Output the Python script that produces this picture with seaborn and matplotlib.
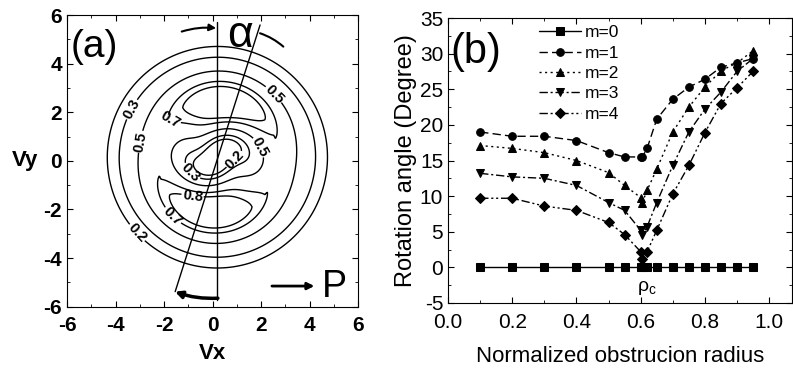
import numpy as np
import pandas as pd
import matplotlib
matplotlib.use('Agg')
import matplotlib.pyplot as plt
import seaborn as sns

# ---- panel (b): rotation angle vs normalized obstruction radius
radius = [0.1, 0.2, 0.3, 0.4, 0.5, 0.55, 0.6, 0.605, 0.62, 0.65, 0.7, 0.75, 0.8, 0.85, 0.9, 0.95]
m0 = [0, 0, 0, 0, 0, 0, 0, 0, 0, 0, 0, 0, 0, 0, 0, 0]
m1 = [19.0, 18.4, 18.4, 17.8, 16.1, 15.5, 15.5, 15.5, 16.7, 20.8, 23.6, 25.3, 26.4, 28.1, 28.7, 29.3]
m2 = [17.1, 16.7, 16.1, 15.0, 13.3, 11.5, 9.8, 9.1, 10.8, 13.8, 19.0, 22.5, 25.3, 27.6, 28.7, 30.4]
m3 = [13.2, 12.7, 12.5, 11.5, 9.1, 8.0, 5.2, 4.6, 5.7, 9.1, 14.3, 19.0, 22.2, 24.6, 27.5, 29.3]
m4 = [9.7, 9.7, 8.6, 8.0, 6.3, 4.6, 2.2, 1.2, 2.2, 5.2, 10.3, 14.3, 18.9, 23.0, 25.2, 27.5]
mode_names = ['m=0', 'm=1', 'm=2', 'm=3', 'm=4']

# ---- panel (a): contour levels and shape parameters of the intensity map
levels = [0.2, 0.3, 0.5, 0.7, 0.8]
centre = (0.2, 0.15)
floor, amp = 0.05, 0.74
ring_r, outer_w, outer_p = 2.5, 1.5, 1.5
mod_c, mod_ring, mod_rm = 0.65, 0.2, 1.6
lobe_out, twist, twist_r = 80.0, 62.6, 1.3
# where the contour values are written
label_spots = [(-3.28, 2.09), (-1.75, 1.75), (2.37, 2.58), (-2.99, 0.79), (2.09, 0.65),
               (0.93, 0.04), (-1.0, -0.58), (-0.86, -1.74), (-1.75, -2.36), (-2.99, -2.84)]

sns.set_style('ticks')
plt.rcParams['font.family'] = ['Liberation Sans', 'DejaVu Sans']
plt.rcParams.update({'xtick.direction': 'in', 'ytick.direction': 'in',
                     'text.color': 'k', 'axes.labelcolor': 'k', 'axes.edgecolor': 'k',
                     'xtick.color': 'k', 'ytick.color': 'k', 'axes.unicode_minus': False})

fig = plt.figure(figsize=(7.93, 3.73), dpi=100)
ax1 = fig.add_axes([0.0845, 0.1777, 0.367, 0.782])
ax2 = fig.add_axes([0.565, 0.1877, 0.4332, 0.764])

# ---------- (a)
v = np.linspace(-6, 6, 481)
X, Y = np.meshgrid(v, v)
R = np.hypot(X - centre[0], Y - centre[1])
T = np.arctan2(Y - centre[1], X - centre[0])
s = (R / ring_r) ** 2
inside = R < ring_r
h = np.where(inside, s * np.exp(1 - s), np.exp(-(np.abs(R - ring_r) / outer_w) ** outer_p))
mod = np.where(inside,
               mod_ring + (mod_c - mod_ring) * np.exp(-(R / mod_rm) ** 2),
               mod_ring * np.exp(-((R - ring_r) / 1.2) ** 2))
phase = np.deg2rad(lobe_out + twist * np.exp(-(R / twist_r) ** 2))
I = floor + amp * h * (1 + mod * np.cos(2 * (T - phase)))

cs = ax1.contour(X, Y, I, levels=levels, colors='k', linewidths=1)
labels = ax1.clabel(cs, fmt='%.1f', fontsize=10.5, inline=True, inline_spacing=1,
                    manual=label_spots)
for t in labels:
    t.set_fontweight('bold')

ax1.plot([0.2, 0.2], [-5.72, 5.73], color='k', lw=1)
ax1.plot([-1.54, 1.96], [-5.38, 5.59], color='k', lw=1)
ax1.annotate('', xy=(0.15, 5.46), xytext=(-1.27, 5.32),
             arrowprops=dict(arrowstyle='-|>', color='k', lw=1.5,
                             connectionstyle='arc3,rad=-0.1', shrinkA=0, shrinkB=0))
ax1.annotate('', xy=(2.92, 4.70), xytext=(1.96, 5.25),
             arrowprops=dict(arrowstyle='-', color='k', lw=1.5,
                             connectionstyle='arc3,rad=-0.1', shrinkA=0, shrinkB=0))
ax1.annotate('', xy=(-1.55, -5.38), xytext=(0.22, -5.65),
             arrowprops=dict(arrowstyle='-|>', color='k', lw=2.5,
                             connectionstyle='arc3,rad=-0.1', shrinkA=0, shrinkB=0))
ax1.annotate('', xy=(4.2, -5.15), xytext=(2.45, -5.15),
             arrowprops=dict(arrowstyle='-|>', color='k', lw=2, shrinkA=0, shrinkB=0))
ax1.text(5.03, -5.2, 'P', fontsize=27, ha='center', va='center')
ax1.text(1.13, 5.15, 'α', fontsize=32, ha='center', va='center')
ax1.text(-5.85, 4.7, '(a)', fontsize=28, ha='left', va='center')

ax1.set_xlim(-6, 6)
ax1.set_ylim(-6, 6)
ax1.set_xticks(range(-6, 7, 2))
ax1.set_yticks(range(-6, 7, 2))
ax1.set_xticks(range(-5, 6, 2), minor=True)
ax1.set_yticks(range(-5, 6, 2), minor=True)
ax1.tick_params(which='both', top=True, right=True, labelsize=15)
ax1.tick_params(axis='x', pad=7)
ax1.tick_params(which='major', length=4)
ax1.tick_params(which='minor', length=2)
for lab in ax1.get_xticklabels() + ax1.get_yticklabels():
    lab.set_fontweight('bold')
ax1.set_xlabel('Vx', fontsize=16, fontweight='bold')
ax1.set_ylabel('Vy', fontsize=16, fontweight='bold', rotation=0, va='center')
ax1.xaxis.set_label_coords(0.5, -0.125)
ax1.yaxis.set_label_coords(-0.145, 0.5)

# ---------- (b)
df = pd.DataFrame({
    'radius': radius * 5,
    'angle': m0 + m1 + m2 + m3 + m4,
    'mode': [n for n in mode_names for _ in radius],
})
sns.lineplot(data=df, x='radius', y='angle', hue='mode', style='mode',
             palette=['k'] * 5, markers=['s', 'o', '^', 'v', 'D'],
             dashes=['', (6, 3), (1.5, 2.5), (6, 2, 1.5, 2), (6, 2, 1.5, 2, 1.5, 2)],
             markersize=5.5, markeredgecolor='k', linewidth=1, sort=False, ax=ax2)
ax2.legend(loc='upper left', bbox_to_anchor=(0.22, 1.03), frameon=False,
           fontsize=12.5, handlelength=2.4, labelspacing=0.3, handletextpad=0.2)
ax2.text(0.62, -2.9, 'ρ$_\\mathregular{c}$', fontsize=14, ha='center', va='center')
ax2.text(0.006, 30.2, '(b)', fontsize=30, ha='left', va='center')

ax2.set_xlim(0, 1.07)
ax2.set_ylim(-5, 35)
ax2.set_xticks(np.arange(0, 1.01, 0.2))
ax2.set_xticks(np.arange(0.1, 1.01, 0.2), minor=True)
ax2.set_yticks(range(-5, 36, 5))
ax2.set_yticks(np.arange(-2.5, 35, 5), minor=True)
ax2.xaxis.set_major_formatter(matplotlib.ticker.FormatStrFormatter('%.1f'))
ax2.tick_params(which='both', top=True, right=True, labelsize=15)
ax2.tick_params(axis='x', pad=7)
ax2.tick_params(which='major', length=4)
ax2.tick_params(which='minor', length=2)
ax2.set_xlabel('Normalized obstrucion radius', fontsize=16, labelpad=10)
ax2.set_ylabel('Rotation angle (Degree)', fontsize=17, labelpad=2)

fig.savefig('out.png', dpi=100)
